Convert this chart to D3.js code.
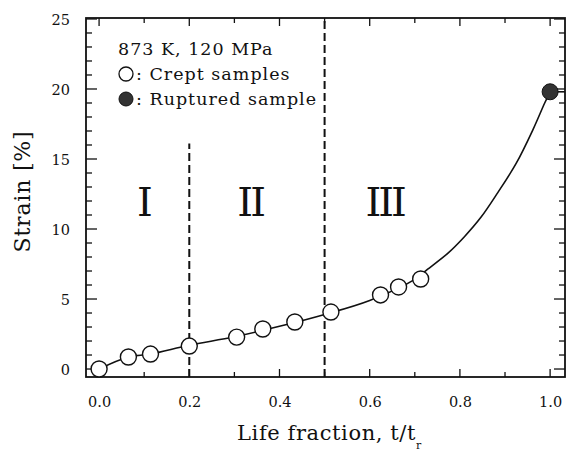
<!DOCTYPE html>
<html>
<head>
<meta charset="utf-8">
<script src="https://cdn.jsdelivr.net/npm/d3@7"></script>
<style>
  body { margin: 0; background: #fff; }
  svg text { font-family: "DejaVu Serif", "Liberation Serif", serif; fill: #111; }
</style>
</head>
<body>
<div id="chart"></div>
<script>
// crept samples (open circles)
const creptFrac = [0.0, 0.065, 0.114, 0.2, 0.305, 0.363, 0.434, 0.514, 0.624, 0.664, 0.713]
const creptStrain = [0.0, 0.86, 1.07, 1.64, 2.28, 2.86, 3.36, 4.07, 5.29, 5.86, 6.43]

// ruptured sample (filled circle)
const rupturedFrac = [1.0]
const rupturedStrain = [19.8]

// creep curve
const curveFrac = [0.0, 0.065, 0.114, 0.2, 0.3, 0.4, 0.5, 0.6, 0.7, 0.726, 0.773, 0.81, 0.847, 0.884, 0.925, 0.962, 0.988, 1.0]
const curveStrain = [0.0, 0.86, 1.07, 1.7, 2.3, 3.05, 3.9, 4.9, 6.4, 7.07, 8.26, 9.45, 10.85, 12.6, 14.7, 17.1, 19.0, 19.8]

// stage boundaries and labels
const boundaryFrac = [0.2, 0.5]
const boundaryTop = [16.1, 25.1]
const stageNames = ["I", "II", "III"]
const stageFrac = [0.098, 0.335, 0.633]
const stageStrain = [10.9, 10.9, 10.9]

const xTicks = [0.0, 0.2, 0.4, 0.6, 0.8, 1.0]
const yTicks = [0, 5, 10, 15, 20, 25]

const W = 573, H = 455
const svg = d3.select("#chart").append("svg")
    .attr("width", W)
    .attr("height", H)

const x = d3.scaleLinear().domain([-0.029, 1.033]).range([86, 565])
const y = d3.scaleLinear().domain([-0.57, 25.07]).range([377, 18])

const x0 = x.range()[0], x1 = x.range()[1]
const y0 = y.range()[0], y1 = y.range()[1]

// minor / major ticks drawn inward on all four sides
const xMinor = d3.range(0, 11).map(d => d / 10)
const yMinor = d3.range(0, 26)

const tickG = svg.append("g").attr("stroke", "#111").attr("stroke-width", 1.3)
xMinor.forEach((v, i) => {
    let len = i % 2 === 0 ? 8 : 5
    tickG.append("line").attr("x1", x(v)).attr("x2", x(v)).attr("y1", y0).attr("y2", y0 - len)
    tickG.append("line").attr("x1", x(v)).attr("x2", x(v)).attr("y1", y1).attr("y2", y1 + len)
})
yMinor.forEach(v => {
    let len = v % 5 === 0 ? 11 : 6
    tickG.append("line").attr("x1", x0).attr("x2", x0 + len).attr("y1", y(v)).attr("y2", y(v))
    tickG.append("line").attr("x1", x1).attr("x2", x1 - len).attr("y1", y(v)).attr("y2", y(v))
})

// frame
svg.append("rect")
    .attr("x", x0).attr("y", y1)
    .attr("width", x1 - x0).attr("height", y0 - y1)
    .attr("fill", "none").attr("stroke", "#111").attr("stroke-width", 1.8)

// tick labels via d3 axes (tick lines hidden)
const xAxis = d3.axisBottom(x).tickValues(xTicks).tickFormat(d3.format(".1f")).tickSize(0).tickPadding(20)
const yAxis = d3.axisLeft(y).tickValues(yTicks).tickFormat(d3.format("d")).tickSize(0).tickPadding(16)

svg.append("g").attr("class", "x-axis axis")
    .attr("transform", `translate(0, ${y0})`)
    .call(xAxis)
svg.append("g").attr("class", "y-axis axis")
    .attr("transform", `translate(${x0}, 0)`)
    .call(yAxis)

svg.selectAll(".axis .domain").remove()
svg.selectAll(".axis text")
    .attr("font-size", 14.5)
    .attr("fill", "#222")
svg.select(".y-axis").selectAll("text").attr("dy", "0.36em")

// axis titles
svg.append("text")
    .attr("transform", `translate(30, ${(y0 + y1) / 2 - 6}) rotate(-90)`)
    .attr("text-anchor", "middle")
    .attr("font-size", 22)
    .attr("letter-spacing", 0.8)
    .text("Strain [%]")

const xt = svg.append("text")
    .attr("x", (x0 + x1) / 2 + 4)
    .attr("y", 440)
    .attr("text-anchor", "middle")
    .attr("font-size", 21)
    .attr("letter-spacing", 0.6)
xt.append("tspan").text("Life fraction, t/t")
xt.append("tspan").attr("font-size", 11).attr("dy", 9).text("r")

// stage boundaries
boundaryFrac.forEach((v, i) => {
    svg.append("line")
        .attr("x1", x(v)).attr("x2", x(v))
        .attr("y1", y0).attr("y2", Math.max(y(boundaryTop[i]), y1))
        .attr("stroke", "#111")
        .attr("stroke-width", 2)
        .attr("stroke-dasharray", "8,4")
})

// stage labels
stageNames.forEach((s, i) => {
    svg.append("text")
        .attr("x", x(stageFrac[i]))
        .attr("y", y(stageStrain[i]))
        .attr("text-anchor", "middle")
        .attr("font-family", "Liberation Serif")
        .attr("font-size", 40)
        .attr("letter-spacing", -3)
        .text(s)
})

// creep curve
const curveData = curveFrac.map((f, i) => ({frac: f, strain: curveStrain[i]}))
svg.append("path")
    .datum(curveData)
    .attr("fill", "none")
    .attr("stroke", "#111")
    .attr("stroke-width", 1.6)
    .attr("d", d3.line()
        .x(d => x(d.frac))
        .y(d => y(d.strain))
        .curve(d3.curveCatmullRom.alpha(0.5)))

// flat tail after rupture
svg.append("line")
    .attr("x1", x(rupturedFrac[0])).attr("x2", x1)
    .attr("y1", y(rupturedStrain[0])).attr("y2", y(rupturedStrain[0]))
    .attr("stroke", "#111").attr("stroke-width", 1.6)

// crept samples
svg.append("g").selectAll("circle")
    .data(creptFrac.map((f, i) => ({frac: f, strain: creptStrain[i]})))
    .enter().append("circle")
    .attr("cx", d => x(d.frac))
    .attr("cy", d => y(d.strain))
    .attr("r", 8)
    .attr("fill", "#fff")
    .attr("stroke", "#111")
    .attr("stroke-width", 1.4)

// ruptured sample
svg.append("g").selectAll("circle")
    .data(rupturedFrac.map((f, i) => ({frac: f, strain: rupturedStrain[i]})))
    .enter().append("circle")
    .attr("cx", d => x(d.frac))
    .attr("cy", d => y(d.strain))
    .attr("r", 8)
    .attr("fill", "#333")
    .attr("stroke", "#111")
    .attr("stroke-width", 1)

// legend
const leg = svg.append("g").attr("font-size", 17.5).attr("letter-spacing", 1)
leg.append("text").attr("x", 118).attr("y", 55).text("873 K, 120 MPa")
leg.append("circle").attr("cx", 126).attr("cy", 74).attr("r", 7)
    .attr("fill", "#fff").attr("stroke", "#111").attr("stroke-width", 1.3)
leg.append("text").attr("x", 136).attr("y", 80).text(": Crept samples")
leg.append("circle").attr("cx", 126).attr("cy", 99).attr("r", 7)
    .attr("fill", "#333").attr("stroke", "#111").attr("stroke-width", 1)
leg.append("text").attr("x", 136).attr("y", 105).text(": Ruptured sample")
</script>
</body>
</html>
